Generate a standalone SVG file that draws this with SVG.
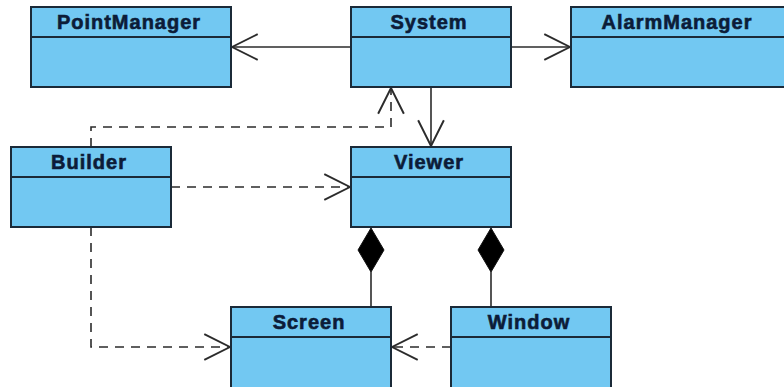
<svg xmlns="http://www.w3.org/2000/svg" width="784" height="387" viewBox="0 0 784 387">
  <style>
    .box { fill: #72c8f2; stroke: #1b2a38; stroke-width: 2; }
    .sep { stroke: #1b2a38; stroke-width: 2; }
    .name { font-family: "Liberation Sans", Arial, sans-serif; font-weight: bold; font-size: 20px; letter-spacing: 1px; fill: #0c1c38; stroke: #0c1c38; stroke-width: 0.6; text-anchor: middle; }
    .link { fill: none; stroke: #2b2b2b; stroke-width: 1.6; }
    .dep { stroke-dasharray: 9 7; }
    .comp { fill: #000; stroke: #111; stroke-width: 1; }
  </style>
  <defs>
    <marker id="open" markerUnits="userSpaceOnUse" markerWidth="30" markerHeight="30" viewBox="-26 -14 28 28" refX="0" refY="0" orient="auto">
      <path d="M-24,-12 L0,0 L-24,12" fill="none" stroke="#2b2b2b" stroke-width="1.8"/>
    </marker>
  </defs>

  <g id="connectors">
    <!-- associations from System -->
    <path class="link" d="M351,47 H232" marker-end="url(#open)"/>
    <path class="link" d="M511,47 H570" marker-end="url(#open)"/>
    <path class="link" d="M431,87 V146" marker-end="url(#open)"/>
    <!-- dependencies from Builder -->
    <path class="link dep" d="M91,147 V127 H391 V88" marker-end="url(#open)"/>
    <path class="link dep" d="M171,187 H350" marker-end="url(#open)"/>
    <path class="link dep" d="M91,227 V347 H230" marker-end="url(#open)"/>
    <!-- dependency Window to Screen -->
    <path class="link dep" d="M451,347 H392" marker-end="url(#open)"/>
    <!-- compositions owned by Viewer -->
    <polygon class="comp" points="371,228 384,250 371,272 358,250"/>
    <path class="link" d="M371,272 V307"/>
    <polygon class="comp" points="491,228 504,250 491,272 478,250"/>
    <path class="link" d="M491,272 V307"/>
  </g>

  <g id="PointManager">
    <rect class="box" x="31" y="7" width="200" height="80"/>
    <line class="sep" x1="31" y1="37" x2="231" y2="37"/>
    <text class="name" x="129" y="29">PointManager</text>
  </g>

  <g id="System">
    <rect class="box" x="351" y="7" width="160" height="80"/>
    <line class="sep" x1="351" y1="37" x2="511" y2="37"/>
    <text class="name" x="429" y="29">System</text>
  </g>

  <g id="AlarmManager">
    <rect class="box" x="571" y="7" width="230" height="80"/>
    <line class="sep" x1="571" y1="37" x2="801" y2="37"/>
    <text class="name" x="677" y="29">AlarmManager</text>
  </g>

  <g id="Builder">
    <rect class="box" x="11" y="147" width="160" height="80"/>
    <line class="sep" x1="11" y1="177" x2="171" y2="177"/>
    <text class="name" x="89" y="169">Builder</text>
  </g>

  <g id="Viewer">
    <rect class="box" x="351" y="147" width="160" height="80"/>
    <line class="sep" x1="351" y1="177" x2="511" y2="177"/>
    <text class="name" x="429" y="169">Viewer</text>
  </g>

  <g id="Screen">
    <rect class="box" x="231" y="307" width="160" height="90"/>
    <line class="sep" x1="231" y1="337" x2="391" y2="337"/>
    <text class="name" x="309" y="329">Screen</text>
  </g>

  <g id="Window">
    <rect class="box" x="451" y="307" width="160" height="90"/>
    <line class="sep" x1="451" y1="337" x2="611" y2="337"/>
    <text class="name" x="529" y="329">Window</text>
  </g>
</svg>
